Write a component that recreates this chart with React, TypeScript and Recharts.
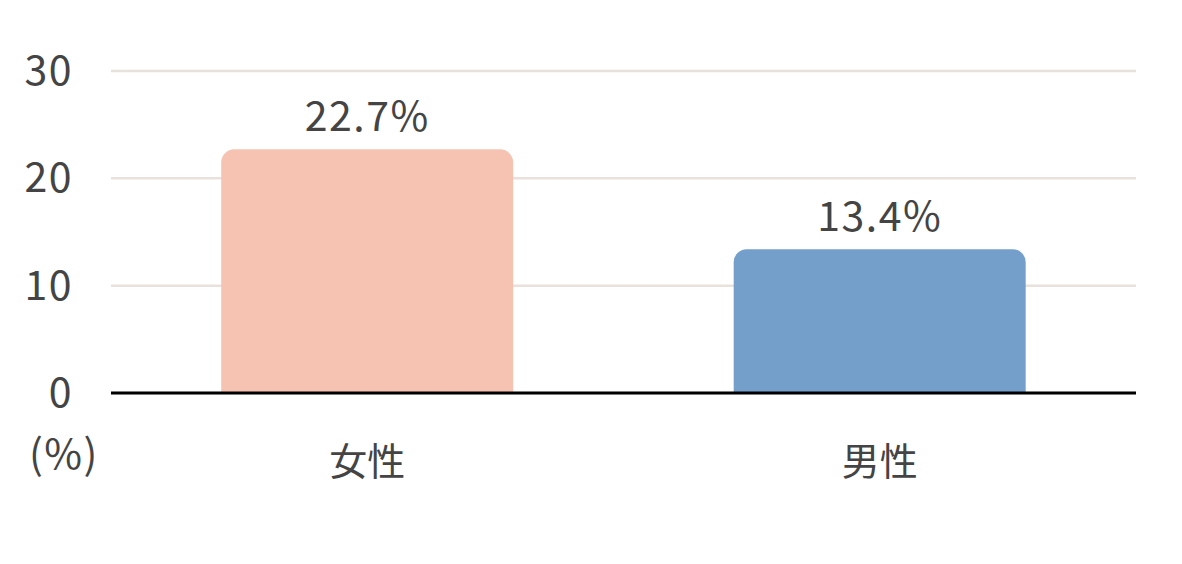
import { BarChart, Bar, XAxis, YAxis, CartesianGrid, Cell, LabelList } from "recharts";

const categories = ["女性", "男性"];
const values = [22.7, 13.4];
const colors = ["#F6C3B2", "#759FCB"];
const yTicks = [0, 10, 20, 30];

const data = categories.map((name, i) => ({ name, value: values[i], color: colors[i] }));

const FONT = "'Noto Sans CJK JP', 'Noto Sans', sans-serif";
const TEXT = "#444444";

const CategoryTick = (props: any) => {
  const { x, y, payload } = props;
  return (
    <text x={x} y={y + 74} textAnchor="middle" fontSize={38} fill={TEXT} fontFamily={FONT}>
      {payload.value}
    </text>
  );
};

const ValueTick = (props: any) => {
  const { x, y, payload } = props;
  return (
    <text
      x={x - 30}
      y={y + 14}
      textAnchor="end"
      fontSize={41}
      fill={TEXT}
      fontFamily={FONT}
      letterSpacing={1.5}
    >
      {payload.value}
    </text>
  );
};

const UnitLabel = (props: any) => {
  const { viewBox } = props;
  return (
    <text
      x={viewBox.x + 29}
      y={viewBox.y + viewBox.height + 76}
      textAnchor="start"
      fontSize={41}
      fill={TEXT}
      fontFamily={FONT}
      letterSpacing={1.5}
    >
      (%)
    </text>
  );
};

const ValueLabel = (props: any) => {
  const { x, y, width, value } = props;
  return (
    <text
      x={x + width / 2}
      y={y - 18}
      textAnchor="middle"
      fontSize={41}
      fill={TEXT}
      fontFamily={FONT}
      letterSpacing={1.5}
    >
      {`${value}%`}
    </text>
  );
};

export default function App() {
  return (
    <div style={{ position: "absolute", left: 0, top: 0, background: "#fff" }}>
      <BarChart
        width={1182}
        height={564}
        data={data}
        margin={{ top: 71, right: 46, left: 0, bottom: 0 }}
        barCategoryGap="21.5%"
      >
        <CartesianGrid vertical={false} stroke="#E8E1DC" strokeWidth={2.5} />
        <XAxis
          dataKey="name"
          height={171}
          tickLine={false}
          axisLine={{ stroke: "#000", strokeWidth: 3 }}
          tick={<CategoryTick />}
          interval={0}
        />
        <YAxis
          width={111}
          domain={[0, 30]}
          ticks={yTicks}
          axisLine={false}
          tickLine={false}
          tick={<ValueTick />}
          label={<UnitLabel />}
        />
        <Bar dataKey="value" radius={[13, 13, 0, 0]} isAnimationActive={false}>
          {data.map((d, i) => (
            <Cell key={`cell-${i}`} fill={d.color} />
          ))}
          <LabelList dataKey="value" content={<ValueLabel />} />
        </Bar>
      </BarChart>
    </div>
  );
}
